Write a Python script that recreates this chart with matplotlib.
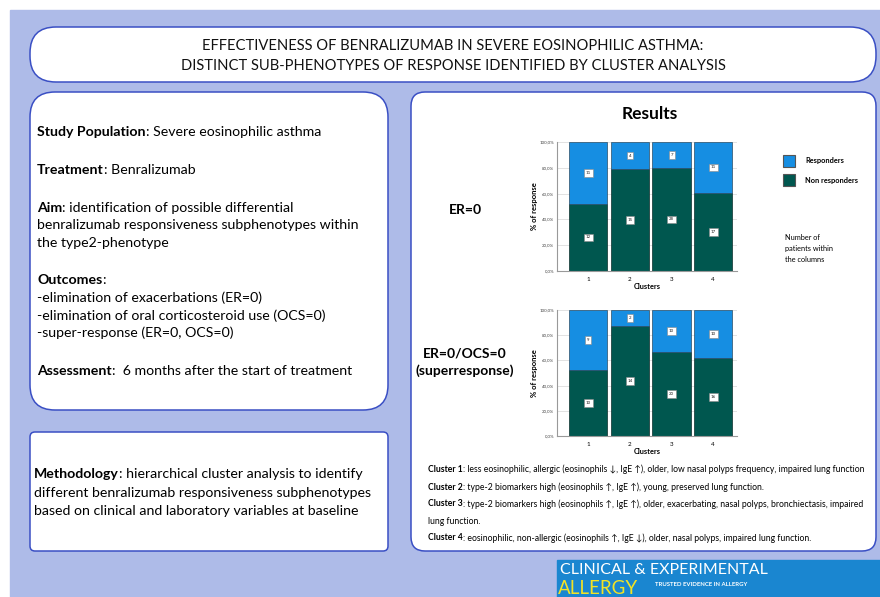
import matplotlib
matplotlib.use("Agg")
import matplotlib.pyplot as plt
from matplotlib.patches import FancyBboxPatch, Rectangle
import numpy as np

plt.rcParams['font.family'] = ['Lato', 'DejaVu Sans']

# ==============================================
# data (patients per cluster)
clusters = [1, 2, 3, 4]
er0_resp = [11, 4, 7, 11]
er0_nonresp = [12, 15, 28, 17]
sr_resp = [9, 2, 10, 10]
sr_nonresp = [10, 14, 20, 16]

ytick_vals = [0, 20, 40, 60, 80, 100]
ytick_labels = ['0,0%', '20,0%', '40,0%', '60,0%', '80,0%', '100,0%']

title_lines = ['EFFECTIVENESS OF BENRALIZUMAB IN SEVERE EOSINOPHILIC ASTHMA:',
               'DISTINCT SUB-PHENOTYPES OF RESPONSE IDENTIFIED BY CLUSTER ANALYSIS']

# (bold part, regular part, y)
left_lines = [
    ('Study Population', ': Severe eosinophilic asthma', 132),
    ('Treatment', ': Benralizumab', 170),
    ('Aim', ': identification of possible differential', 208),
    ('', 'benralizumab responsiveness subphenotypes within', 225),
    ('', 'the type2-phenotype', 243),
    ('Outcomes', ':', 280),
    ('', '-elimination of exacerbations (ER=0)', 298),
    ('', '-elimination of oral corticosteroid use (OCS=0)', 316),
    ('', '-super-response (ER=0, OCS=0)', 333),
    ('Assessment', ':  6 months after the start of treatment', 371),
]
method_lines = [
    ('Methodology', ': hierarchical cluster analysis to identify', 474),
    ('', 'different benralizumab responsiveness subphenotypes', 493),
    ('', 'based on clinical and laboratory variables at baseline', 511),
]
cluster_lines = [
    ('Cluster 1', ': less eosinophilic, allergic (eosinophils \u2193, IgE \u2191), older, low nasal polyps frequency, impaired lung function', 469),
    ('Cluster 2', ': type-2 biomarkers high (eosinophils \u2191, IgE \u2191), young, preserved lung function.', 487),
    ('Cluster 3', ': type-2 biomarkers high (eosinophils \u2191, IgE \u2191), older, exacerbating, nasal polyps, bronchiectasis, impaired', 504),
    ('', 'lung function.', 521),
    ('Cluster 4', ': eosinophilic, non-allergic (eosinophils \u2191, IgE \u2193), older, nasal polyps, impaired lung function.', 538),
]

# ==============================================
W, H = 880, 597
fig = plt.figure(figsize=(W / 100, H / 100), dpi=100)
bg = fig.add_axes([0, 0, 1, 1])
bg.set_xlim(0, W)
bg.set_ylim(H, 0)
bg.axis('off')

border = '#3a4fc4'
bg.add_patch(Rectangle((10, 10), W - 10, H - 10, color='#aebbe8', zorder=0))

def box(x0, y0, x1, y1, r):
    bg.add_patch(FancyBboxPatch((x0, y0), x1 - x0, y1 - y0,
                                boxstyle='round,pad=0,rounding_size=%d' % r,
                                fc='white', ec=border, lw=1.1, zorder=1))

box(30, 27, 876, 82, 26)
box(30, 92, 388, 410, 25)
box(30, 432, 388, 551, 5)
box(411, 92, 876, 551, 14)

for i, line in enumerate(title_lines):
    bg.text(453, 46 + i * 20, line, ha='center', va='center', fontsize=10.6,
            color='#111111', zorder=3)

renderer = fig.canvas.get_renderer()

def rich(x, y, bold, rest, size):
    if bold:
        t = bg.text(x, y, bold, fontsize=size, fontweight='bold', va='center', zorder=3)
        x += t.get_window_extent(renderer=renderer).width
    bg.text(x, y, rest, fontsize=size, va='center', zorder=3)

for b, r, y in left_lines:
    rich(37, y, b, r, 10.2)
for b, r, y in method_lines:
    rich(34, y, b, r, 10.2)
for b, r, y in cluster_lines:
    rich(428, y, b, r, 6.2)

bg.text(650, 114, 'Results', ha='center', va='center', fontsize=12.5, fontweight='bold', zorder=3)
bg.text(465, 210, 'ER=0', ha='center', va='center', fontsize=10, fontweight='bold', zorder=3)
bg.text(465, 354, 'ER=0/OCS=0', ha='center', va='center', fontsize=10, fontweight='bold', zorder=3)
bg.text(465, 371, '(superresponse)', ha='center', va='center', fontsize=10, fontweight='bold', zorder=3)

c_resp = '#168ee2'
c_non = '#00574f'

# legend
bg.add_patch(Rectangle((783, 155), 12, 12, fc=c_resp, ec='#555555', lw=0.8, zorder=3))
bg.add_patch(Rectangle((783, 174), 12, 12, fc=c_non, ec='#555555', lw=0.8, zorder=3))
bg.text(805, 161, 'Responders', fontsize=5.3, fontweight='bold', va='center', zorder=3)
bg.text(805, 180, 'Non responders', fontsize=5.3, fontweight='bold', va='center', zorder=3)
for i, s in enumerate(['Number of', 'patients within', 'the columns']):
    bg.text(785, 237 + i * 11, s, fontsize=5.3, va='center', zorder=3)

# logo
bg.add_patch(Rectangle((557, 560), W - 557, H - 560, color='#1a86d0', zorder=2))
bg.text(560, 570, 'CLINICAL & EXPERIMENTAL', fontsize=11.5, color='white', va='center', zorder=3)
bg.text(558, 588, 'ALLERGY', fontsize=13.5, color='#f2e324', va='center', zorder=3)
bg.text(655, 585, 'TRUSTED EVIDENCE IN ALLERGY', fontsize=4.3, fontweight='bold', color='white', va='center', zorder=3)

# ==============================================
# stacked 100% bar charts
def chart(top, bottom, resp, non):
    ax = fig.add_axes([557 / W, 1 - bottom / H, (737 - 557) / W, (bottom - top) / H])
    resp = np.array(resp, float)
    non = np.array(non, float)
    tot = resp + non
    p_non = non / tot * 100
    p_resp = resp / tot * 100
    ax.bar(clusters, p_non, width=0.92, color=c_non, edgecolor='#0c2e2b', lw=0.5, zorder=2)
    ax.bar(clusters, p_resp, bottom=p_non, width=0.92, color=c_resp, edgecolor='#2a4d66', lw=0.5, zorder=2)
    for c, pn, pr, n, r in zip(clusters, p_non, p_resp, non, resp):
        for yy, v in [(pn / 2, n), (pn + pr / 2, r)]:
            ax.text(c, yy, '%d' % v, ha='center', va='center', fontsize=3.2, color='#222222',
                    bbox=dict(boxstyle='square,pad=0.4', fc='white', ec='#888888', lw=0.4), zorder=3)
    ax.set_xlim(0.25, 4.57)
    ax.set_ylim(0, 100)
    ax.set_yticks(ytick_vals)
    ax.set_yticklabels(ytick_labels)
    ax.set_xticks(clusters)
    ax.tick_params(axis='y', labelsize=3.2, length=0, pad=2, colors='#444444')
    ax.tick_params(axis='x', labelsize=4.5, length=0, pad=4)
    ax.grid(axis='y', color='#dddddd', lw=0.6, zorder=0)
    for s in ['top', 'right']:
        ax.spines[s].set_visible(False)
    for s in ['left', 'bottom']:
        ax.spines[s].set_color('#999999')
        ax.spines[s].set_linewidth(0.8)
    ax.set_xlabel('Clusters', fontsize=5.3, fontweight='bold', labelpad=1)
    ax.set_ylabel('% of response', fontsize=5.5, fontweight='bold', labelpad=1)
    ax.patch.set_alpha(0)
    return ax

chart(142, 271, er0_resp, er0_nonresp)
chart(310, 436, sr_resp, sr_nonresp)

fig.savefig('out.png', dpi=100)
